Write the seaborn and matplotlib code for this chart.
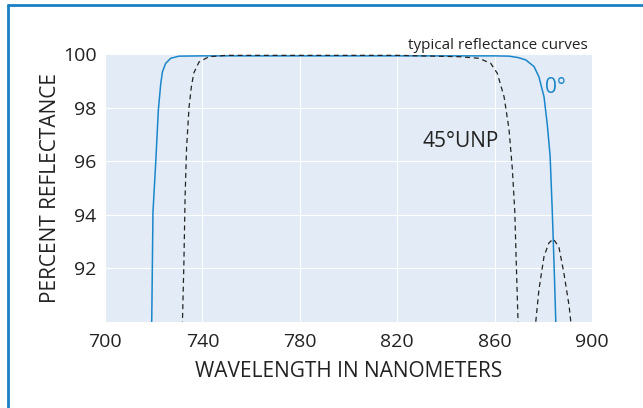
import matplotlib
matplotlib.use("Agg")
import matplotlib.pyplot as plt
import seaborn as sns
import pandas as pd
from matplotlib.lines import Line2D

# ---- data ----
wl_0 = [719.0, 719.2, 719.7, 720.8, 721.9, 722.9, 723.6, 724.9, 727.0, 730.4,
        740, 780, 820, 860, 865.9, 869.5, 872.8, 876.2, 878.2, 880.3,
        881.6, 882.8, 883.7, 884.4, 885.1, 885.3]
r_0 = [89.5, 90.1, 94.1, 95.9, 97.9, 98.9, 99.34, 99.65, 99.84, 99.92,
       99.93, 99.93, 99.93, 99.93, 99.92, 99.87, 99.78, 99.53, 99.15, 98.4,
       97.4, 96.2, 94.1, 92.2, 90.1, 89.5]

wl_45 = [731.7, 731.8, 732.4, 732.9, 733.5, 734.5, 735.5, 736.5, 738.6, 742.7,
         750, 780, 820, 845.4, 853.6, 858.4, 861.1, 863.9, 865.9, 867.3,
         868.3, 868.9, 869.6, 870.0, 873.0, 876.5, 876.9, 878.2, 880.3, 882.3,
         884.1, 886.4, 888.5, 890.6, 891.3, 891.6]
r_45 = [89.5, 90.0, 92.2, 94.7, 96.5, 98.0, 98.8, 99.3, 99.7, 99.9,
        99.95, 99.95, 99.95, 99.9, 99.84, 99.65, 99.28, 98.4, 97.2, 95.7,
        94.1, 92.2, 90.1, 89.5, 85.0, 89.5, 90.0, 91.2, 92.45, 92.95,
        93.1, 92.8, 91.8, 90.6, 90.0, 89.5]

x_ticks = [700, 740, 780, 820, 860, 900]
y_ticks = [92, 94, 96, 98, 100]

blue = "#1a86cb"
dark = "#222222"

sns.set_style("darkgrid", {"axes.facecolor": "#e3ecf6", "grid.color": "white",
                           "grid.linewidth": 1.2})
plt.rcParams["font.family"] = ["Open Sans", "DejaVu Sans"]

df0 = pd.DataFrame({"wl": wl_0, "r": r_0})
df45 = pd.DataFrame({"wl": wl_45, "r": r_45})

fig = plt.figure(figsize=(6.43, 4.08), dpi=100)
ax = fig.add_axes([105 / 643, 1 - 322 / 408, 487 / 643, 268 / 408])

sns.lineplot(data=df0, x="wl", y="r", ax=ax, color=blue, lw=1.1,
             estimator=None, sort=False)
sns.lineplot(data=df45, x="wl", y="r", ax=ax, color=dark, lw=0.9,
             estimator=None, sort=False, dashes=False, linestyle=(0, (4, 3)))

ax.set_xlim(700, 900)
ax.set_ylim(90, 100)
ax.set_xticks(x_ticks)
ax.set_yticks(y_ticks)
ax.tick_params(axis="both", length=0, labelsize=14, colors=dark)
ax.tick_params(axis="x", pad=8)
ax.tick_params(axis="y", pad=6)
for s in ax.spines.values():
    s.set_visible(False)

ax.set_xlabel("WAVELENGTH IN NANOMETERS", fontsize=15, color=dark)
ax.set_ylabel("PERCENT REFLECTANCE", fontsize=15, color=dark)
ax.xaxis.set_label_coords(0.5, -0.145)
ax.yaxis.set_label_coords(-0.09, 0.5)

ax.text(830.5, 96.54, "45°UNP", fontsize=15, color=dark, va="baseline")
ax.text(880.6, 98.55, "0°", fontsize=15, color=blue, va="baseline")
ax.text(898.4, 100.19, "typical reflectance curves", fontsize=11, color=dark,
        ha="right", va="baseline")

# L-shaped blue frame
fig.add_artist(Line2D([8 / 643, 8 / 643], [0, 1 - 5 / 408], color="#1a80c4",
                      lw=2, transform=fig.transFigure))
fig.add_artist(Line2D([8 / 643, 1], [1 - 5 / 408, 1 - 5 / 408], color="#1a80c4",
                      lw=2, transform=fig.transFigure))

fig.savefig("out.png", dpi=100)
